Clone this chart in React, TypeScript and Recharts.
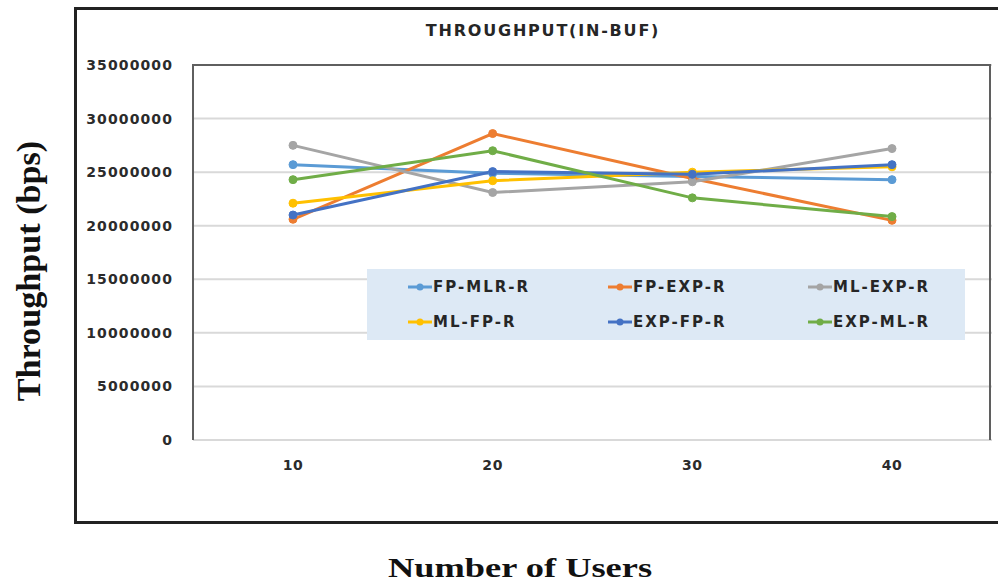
import React from 'react';
import { LineChart, Line, XAxis, YAxis, CartesianGrid, Legend } from 'recharts';

const users = ['10', '20', '30', '40'];
const yTicks = [0, 5000000, 10000000, 15000000, 20000000, 25000000, 30000000, 35000000];

const seriesNames = ['FP-MLR-R', 'FP-EXP-R', 'ML-EXP-R', 'ML-FP-R', 'EXP-FP-R', 'EXP-ML-R'];
const seriesColors = ['#5b9bd5', '#ed7d31', '#a5a5a5', '#ffc000', '#4472c4', '#70ad47'];

const fpMlr = [25700000, 24900000, 24600000, 24300000];
const fpExp = [20600000, 28600000, 24400000, 20500000];
const mlExp = [27500000, 23100000, 24100000, 27200000];
const mlFp = [22100000, 24200000, 25000000, 25500000];
const expFp = [21000000, 25050000, 24800000, 25700000];
const expMl = [24300000, 27000000, 22600000, 20850000];

const seriesValues = [fpMlr, fpExp, mlExp, mlFp, expFp, expMl];

const data = users.map((u, i) => {
  const row: any = { users: u };
  seriesNames.forEach((n, s) => { row[n] = seriesValues[s][i]; });
  return row;
});

const tickFont = { fontFamily: 'DejaVu Sans', fontWeight: 700, fontSize: 14, fill: '#2b2b2b' };

const LegendBox = () => (
  <div style={{ display: 'grid', gridTemplateColumns: '200px 200px 200px', paddingLeft: 41, paddingTop: 0 }}>
    {seriesNames.map((n, i) => (
      <div key={n} style={{ display: 'flex', alignItems: 'center', height: 35 }}>
        <svg width={24} height={10} style={{ marginRight: 1 }}>
          <line x1={0} y1={5} x2={24} y2={5} stroke={seriesColors[i]} strokeWidth={3} />
          <circle cx={12} cy={5} r={3.5} fill={seriesColors[i]} />
        </svg>
        <span style={{ fontFamily: 'DejaVu Sans', fontWeight: 700, fontSize: 15, color: '#262626', letterSpacing: 2 }}>{n}</span>
      </div>
    ))}
  </div>
);

export default function App() {
  return (
    <div style={{ position: 'fixed', left: 0, top: 0, width: 998, height: 583, background: '#fff', overflow: 'hidden' }}>
      {/* outer frame */}
      <div style={{ position: 'absolute', left: 74, top: 7, width: 960, height: 511, border: '3px solid #222' }} />
      <LineChart width={998} height={583} data={data} margin={{ top: 65, right: 6, bottom: 113, left: 113 }}>
        <CartesianGrid vertical={false} stroke="#d9d9d9" strokeWidth={2} />
        <XAxis
          dataKey="users"
          height={30}
          padding={{ left: 100, right: 100 }}
          axisLine={false}
          tickLine={false}
          tickSize={0}
          tickMargin={20}
          tick={{ ...tickFont, letterSpacing: 0.6 }}
        />
        <YAxis
          width={80}
          domain={[0, 35000000]}
          ticks={yTicks}
          interval={0}
          axisLine={false}
          tickLine={false}
          tickSize={0}
          tickMargin={20}
          tick={{ ...tickFont, letterSpacing: 1.1 }}
        />
        <Legend
          layout="horizontal"
          verticalAlign="middle"
          align="center"
          content={<LegendBox />}
          wrapperStyle={{ left: 367, top: 269, width: 598, height: 71, background: '#dde9f5' }}
        />
        {seriesNames.map((n, i) => (
          <Line
            key={n}
            dataKey={n}
            name={n}
            stroke={seriesColors[i]}
            strokeWidth={3}
            dot={{ r: 4, fill: seriesColors[i], stroke: seriesColors[i], strokeWidth: 1 }}
            isAnimationActive={false}
          />
        ))}
      </LineChart>
      {/* plot border */}
      <div style={{ position: 'absolute', left: 192, top: 64, width: 799, height: 376, borderLeft: '2px solid #5f5f5f', borderRight: '2px solid #5f5f5f', borderTop: '2px solid #5f5f5f', boxSizing: 'border-box' }} />
      <div style={{ position: 'absolute', left: 343, top: 21, width: 400, textAlign: 'center', fontFamily: 'DejaVu Sans', fontWeight: 700, fontSize: 16, color: '#262626', letterSpacing: 1.8 }}>
        THROUGHPUT(IN-BUF)
      </div>
      <div style={{ position: 'absolute', left: 270, top: 552, width: 500, textAlign: 'center', fontFamily: 'Liberation Serif', fontWeight: 700, fontSize: 28, color: '#111', transform: 'scaleX(1.3)' }}>
        Number of Users
      </div>
      <div style={{ position: 'absolute', left: 29, top: 273, width: 0, height: 0 }}>
        <div style={{ position: 'absolute', left: -150, top: -18, width: 300, textAlign: 'center', fontFamily: 'Liberation Serif', fontWeight: 700, fontSize: 28, color: '#111', transform: 'rotate(-90deg) scale(1.22, 1.2)' }}>
          Throughput (bps)
        </div>
      </div>
    </div>
  );
}
